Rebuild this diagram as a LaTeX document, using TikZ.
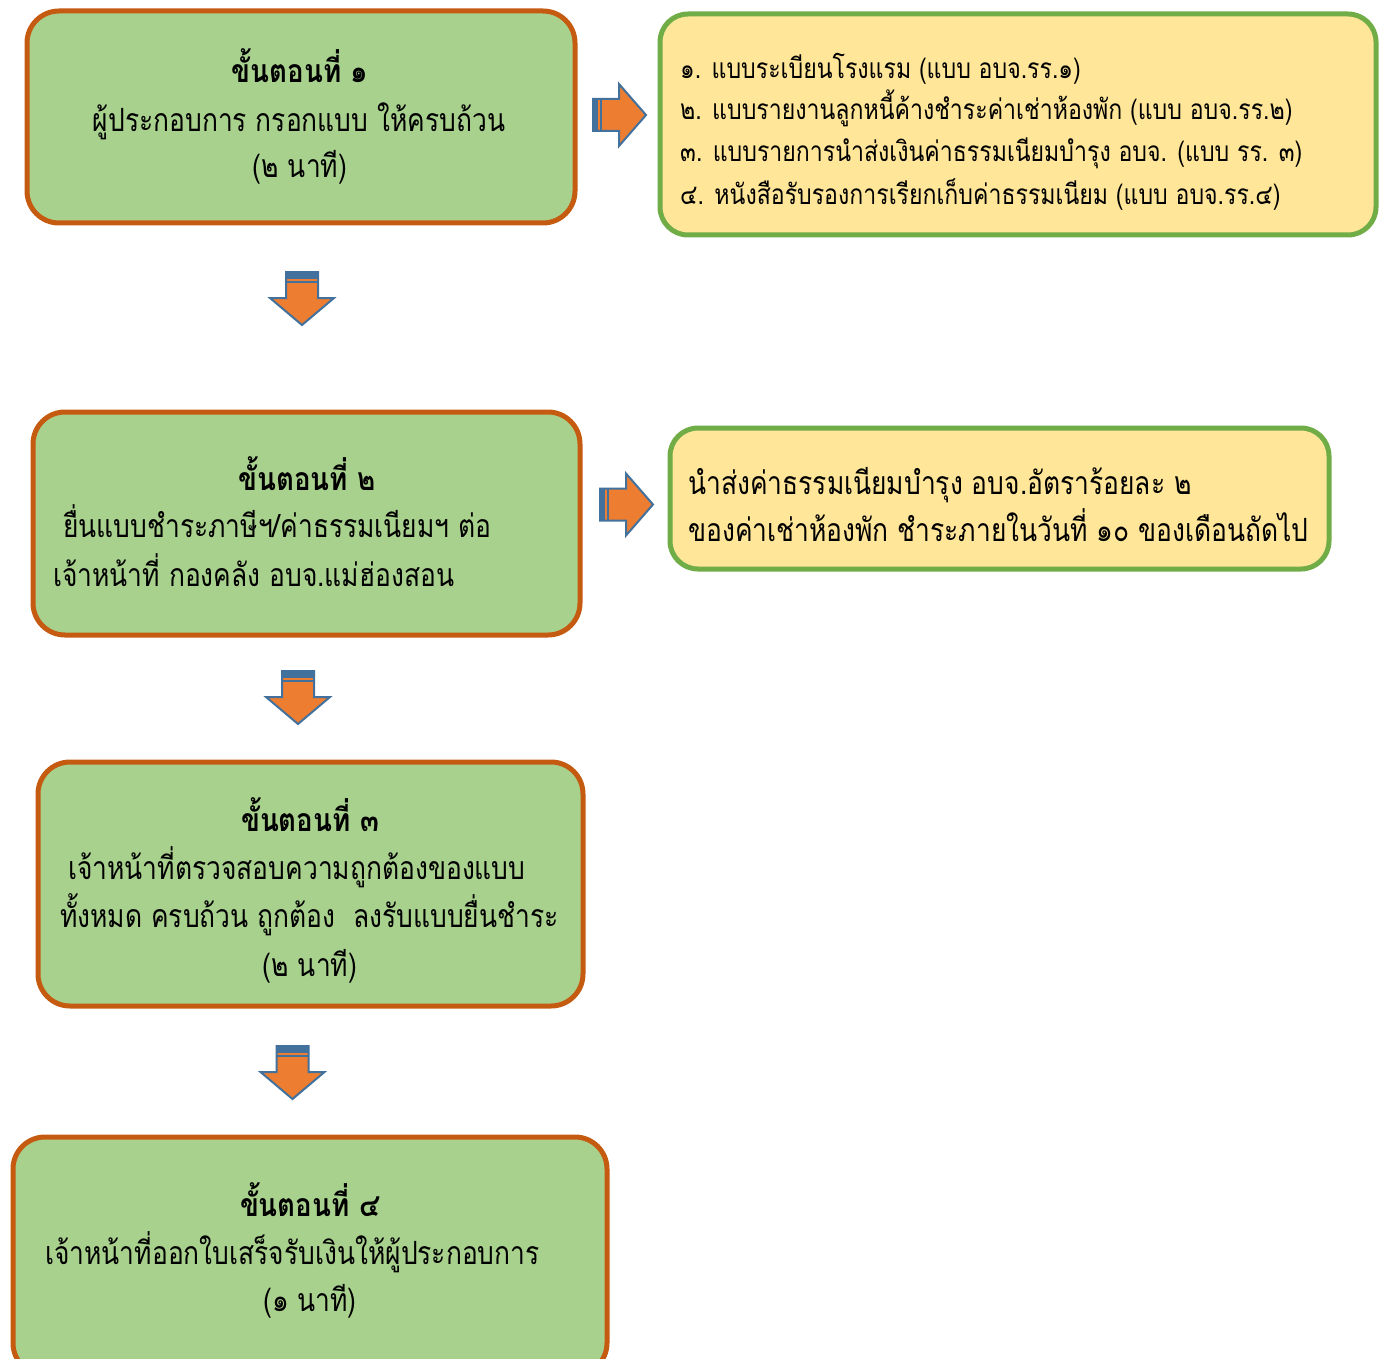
\documentclass[tikz,border=0pt]{standalone}
\usepackage{fontspec}
\setmainfont[Script=Thai]{Loma}
\newfontfamily\bodyfont[Script=Thai, FakeStretch=0.825]{Loma}
\newfontfamily\titlefont[Script=Thai, FakeStretch=0.865]{Loma}
\definecolor{boxgreen}{HTML}{A9D18E}
\definecolor{boxorange}{HTML}{C55A11}
\definecolor{noteyellow}{HTML}{FFE699}
\definecolor{notegreen}{HTML}{70AD47}
\definecolor{arrorange}{HTML}{ED7D31}
\definecolor{arrblue}{HTML}{41719C}
\tikzset{
 stepbox/.style={draw=boxorange, line width=5pt, fill=boxgreen, rounded corners=32pt, inner sep=0pt},
 notebox/.style={draw=notegreen, line width=5pt, fill=noteyellow, rounded corners=28pt, inner sep=0pt},
 bigtxt/.style={inner sep=0pt, anchor=base, font=\bodyfont\fontsize{32}{36}\selectfont},
 titletxt/.style={inner sep=0pt, anchor=base, font=\titlefont\bfseries\fontsize{32}{36}\selectfont},
 smalltxt/.style={inner sep=0pt, anchor=base west, font=\bodyfont\fontsize{28}{32}\selectfont},
 pics/downarr/.style={code={
   \draw[fill=arrorange, draw=arrblue, line width=2pt, line join=miter]
     (-16,0) -- (16,0) -- (16,26) -- (32,26) -- (0,53) -- (-32,26) -- (-16,26) -- cycle;
   \fill[arrblue] (-16,0) rectangle (16,7);
   \draw[arrblue, line width=1.5pt] (-16,10) -- (16,10);
 }},
 pics/rightarr/.style={code={
   \draw[fill=arrorange, draw=arrblue, line width=2pt, line join=miter]
     (0,-16) -- (26,-16) -- (26,-31) -- (53,0) -- (26,31) -- (26,16) -- (0,16) -- cycle;
   \fill[arrblue] (0,-16) rectangle (5,16);
   \draw[arrblue, line width=1.5pt] (8,-16) -- (8,16);
 }}
}
\begin{document}
\begin{tikzpicture}[x=1pt,y=-1pt]
\useasboundingbox[fill=white] (0,0) rectangle (1379,1359);

% boxes
\node[stepbox, minimum width=548pt, minimum height=212pt] (s1) at (301,117) {};
\node[notebox, minimum width=716pt, minimum height=221pt] (n1) at (1018,124.5) {};
\node[stepbox, minimum width=547pt, minimum height=223pt] (s2) at (306.5,523.5) {};
\node[notebox, minimum width=659pt, minimum height=141pt] (n2) at (999.5,498.5) {};
\node[stepbox, minimum width=545pt, minimum height=244pt] (s3) at (310.5,884) {};
\node[stepbox, minimum width=594pt, minimum height=238pt] (s4) at (310,1256) {};

% arrows
\pic (r1) at (593,115) {rightarr};
\pic (r2) at (600,504.5) {rightarr};
\pic (d1) at (302,272) {downarr};
\pic (d2) at (298,671) {downarr};
\pic (d3) at (292.5,1046) {downarr};

% step 1
\node[titletxt] (t1a) at (300,83) {ขั้นตอนที่ ๑};
\node[bigtxt] (t1b) at (299,132) {ผู้ประกอบการ กรอกแบบ ให้ครบถ้วน};
\node[bigtxt] (t1c) at (300,178) {(๒ นาที)};

% note 1
\node[smalltxt] (u1) at (680,79) {๑. แบบระเบียนโรงแรม (แบบ อบจ.รร.๑)};
\node[smalltxt] (u2) at (680,120) {๒. แบบรายงานลูกหนี้ค้างชำระค่าเช่าห้องพัก (แบบ อบจ.รร.๒)};
\node[smalltxt] (u3) at (680,162) {๓. แบบรายการนำส่งเงินค่าธรรมเนียมบำรุง อบจ. (แบบ รร. ๓)};
\node[smalltxt] (u4) at (680,205) {๔. หนังสือรับรองการเรียกเก็บค่าธรรมเนียม (แบบ อบจ.รร.๔)};

% step 2
\node[titletxt] (t2a) at (307,490) {ขั้นตอนที่ ๒};
\node[bigtxt, anchor=base west] (t2b) at (63,537) {ยื่นแบบชำระภาษีฯ/ค่าธรรมเนียมฯ ต่อ};
\node[bigtxt, anchor=base west] (t2c) at (53,586) {เจ้าหน้าที่ กองคลัง อบจ.แม่ฮ่องสอน};

% note 2
\node[bigtxt, anchor=base west] (v1) at (688,494) {นำส่งค่าธรรมเนียมบำรุง อบจ.อัตราร้อยละ ๒};
\node[bigtxt, anchor=base west] (v2) at (688,541) {ของค่าเช่าห้องพัก ชำระภายในวันที่ ๑๐ ของเดือนถัดไป};

% step 3
\node[titletxt] (t3a) at (310,831) {ขั้นตอนที่ ๓};
\node[bigtxt, anchor=base west] (t3b) at (68,879) {เจ้าหน้าที่ตรวจสอบความถูกต้องของแบบ};
\node[bigtxt, anchor=base west] (t3c) at (60,927) {ทั้งหมด ครบถ้วน ถูกต้อง\ \ ลงรับแบบยื่นชำระ};
\node[bigtxt] (t3d) at (310,976) {(๒ นาที)};

% step 4
\node[titletxt] (t4a) at (310,1216) {ขั้นตอนที่ ๔};
\node[bigtxt, anchor=base west] (t4b) at (45,1264) {เจ้าหน้าที่ออกใบเสร็จรับเงินให้ผู้ประกอบการ};
\node[bigtxt] (t4c) at (310,1311) {(๑ นาที)};
\end{tikzpicture}
\end{document}
